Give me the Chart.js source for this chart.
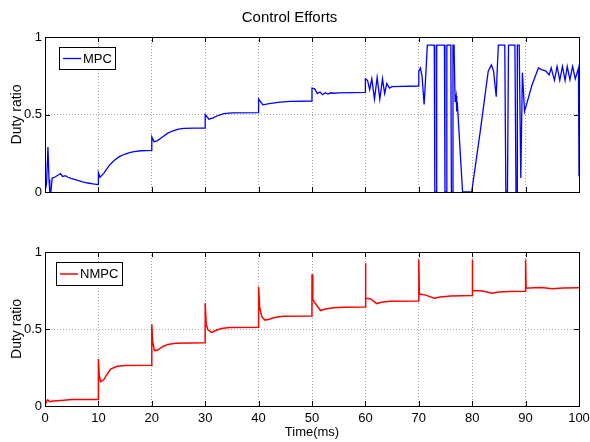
<!DOCTYPE html>
<html>
<head>
<meta charset="utf-8">
<script src="https://cdn.jsdelivr.net/npm/chart.js@4.4.0/dist/chart.umd.min.js"></script>
<style>
  body { margin: 0; background: #fff; }
  canvas { display: block; }
</style>
</head>
<body>
<canvas id="mpcChart" width="590" height="221"></canvas>
<canvas id="nmpcChart" width="590" height="221"></canvas>
<script>
// tick values (same for both subplots)
const xTicks = [0, 10, 20, 30, 40, 50, 60, 70, 80, 90, 100];
const yTicks = [0, 0.5, 1];

// MPC control effort
const mpcTime = [
  0, 0.3, 0.55, 0.75, 0.9, 1.1, 1.35, 1.8, 2.4, 2.9, 3.3, 3.8, 4.3, 5, 6, 7, 8, 9, 9.99,
  10, 10.3, 11, 12, 13, 14, 15, 16, 17, 18, 19.99,
  20, 20.4, 21, 22, 23, 24, 25, 26, 28, 29.99,
  30, 30.7, 31.5, 32.5, 33.5, 35, 39.99,
  40, 40.8, 42, 44, 46, 49.99,
  50, 50.5, 51, 51.5, 52, 52.5, 53, 53.5, 54, 55, 59.99,
  60, 60.4, 60.8, 61.2, 61.7, 62.2, 62.7, 63.2, 63.6, 64, 64.5, 65, 69.99,
  70, 70.3, 70.6, 71, 71.3, 71.6, 72.9, 73, 73.3, 73.35, 74.8, 74.9, 75.2, 75.25, 76, 76.1, 76.35, 76.4,
  76.6, 76.8, 77, 77.1, 77.2, 78.2, 79.9, 81.5, 83, 83.6, 84, 84.5, 84.7, 84.9, 86.1, 86.3, 86.6, 86.8,
  88, 88.2, 88.4, 88.45, 88.8, 89.1, 89.4, 89.8, 90.3, 91.2, 92.4, 93, 93.8, 94.4, 94.8, 95.4, 95.9,
  96.4, 96.9, 97.4, 97.8, 98.3, 98.8, 99.3, 99.9, 100
];
const mpcDuty = [
  0, 0.06, 0.29, 0.08, 0, 0, 0.09, 0.095, 0.108, 0.118, 0.1, 0.105, 0.095, 0.087, 0.076, 0.066, 0.058, 0.052, 0.048,
  0.125, 0.095, 0.12, 0.17, 0.205, 0.23, 0.245, 0.255, 0.262, 0.266, 0.268,
  0.355, 0.325, 0.33, 0.355, 0.38, 0.395, 0.405, 0.41, 0.412, 0.413,
  0.5, 0.47, 0.478, 0.495, 0.505, 0.511, 0.512,
  0.6, 0.562, 0.57, 0.58, 0.585, 0.587,
  0.67, 0.665, 0.635, 0.645, 0.628, 0.64, 0.632, 0.64, 0.637, 0.64, 0.643,
  0.73, 0.72, 0.66, 0.73, 0.6, 0.74, 0.6, 0.73, 0.635, 0.7, 0.67, 0.68, 0.684,
  0.78, 0.8, 0.75, 0.565, 0.75, 0.948, 0.948, 0, 0, 0.948, 0.948, 0, 0, 0.948, 0.948, 0, 0, 0.948,
  0.948, 0.58, 0.62, 0.52, 0.58, 0, 0, 0.39, 0.78, 0.82, 0.78, 0.615, 0.8, 0.948, 0.948, 0, 0, 0.948,
  0.948, 0, 0, 0.948, 0.948, 0.09, 0.77, 0.52, 0.58, 0.69, 0.8, 0.79, 0.78, 0.755, 0.8, 0.72, 0.81,
  0.72, 0.81, 0.72, 0.81, 0.725, 0.81, 0.73, 0.8, 0.1
];

// NMPC control effort
const nmpcTime = [
  0, 0.3, 0.5, 0.9, 1.5, 3, 5, 9.99,
  10, 10.15, 10.4, 11, 11.5, 12.3, 13.5, 15, 19.99,
  20, 20.15, 20.5, 21, 22, 23, 24.5, 29.99,
  30, 30.2, 30.5, 31.2, 32, 33, 34.5, 39.99,
  40, 40.2, 40.6, 41.2, 42, 43, 44.5, 49.99,
  50, 50.15, 50.6, 51.6, 52.5, 54, 56, 59.99,
  60, 60.1, 61, 62.1, 63, 64.5, 69.99,
  70, 70.1, 71.3, 72.9, 74, 76, 79.99,
  80, 80.1, 82, 83.6, 85, 87, 89.99,
  90, 90.1, 91.5, 93, 95, 97, 100
];
const nmpcDuty = [
  0.005, 0.03, 0.04, 0.028, 0.032, 0.036, 0.042, 0.043,
  0.305, 0.2, 0.158, 0.17, 0.2, 0.24, 0.258, 0.263, 0.264,
  0.53, 0.42, 0.36, 0.362, 0.385, 0.4, 0.408, 0.41,
  0.667, 0.53, 0.495, 0.478, 0.49, 0.503, 0.51, 0.512,
  0.775, 0.64, 0.58, 0.558, 0.563, 0.575, 0.583, 0.585,
  0.855, 0.69, 0.668, 0.62, 0.63, 0.638, 0.642, 0.643,
  0.927, 0.7, 0.695, 0.665, 0.673, 0.68, 0.682,
  0.952, 0.727, 0.72, 0.7, 0.708, 0.714, 0.717,
  0.952, 0.75, 0.746, 0.733, 0.741, 0.744, 0.745,
  0.952, 0.765, 0.768, 0.77, 0.762, 0.766, 0.768
];

const family = '"Liberation Sans", Arial, Helvetica, sans-serif';
Chart.defaults.font.family = family;
Chart.defaults.color = '#000';

// MATLAB style box with inward ticks on all four sides
const matlabAxes = {
  id: 'matlabAxes',
  afterDatasetsDraw(chart) {
    const { ctx, chartArea: a, scales: { x, y } } = chart;
    ctx.save();
    ctx.strokeStyle = '#000';
    ctx.lineWidth = 1;
    ctx.beginPath();
    xTicks.forEach(v => {
      const px = Math.round(x.getPixelForValue(v)) + 0.5;
      ctx.moveTo(px, a.bottom); ctx.lineTo(px, a.bottom - 5);
      ctx.moveTo(px, a.top); ctx.lineTo(px, a.top + 5);
    });
    yTicks.forEach(v => {
      const py = Math.round(y.getPixelForValue(v)) + 0.5;
      ctx.moveTo(a.left, py); ctx.lineTo(a.left + 5, py);
      ctx.moveTo(a.right, py); ctx.lineTo(a.right - 5, py);
    });
    ctx.stroke();
    ctx.strokeRect(Math.round(a.left) + 0.5, Math.round(a.top) + 0.5,
      Math.round(a.right - a.left), Math.round(a.bottom - a.top));
    ctx.restore();
  }
};

// legend box inside the axes, top left
const boxLegend = {
  id: 'boxLegend',
  afterDraw(chart, args, opts) {
    const ds = chart.data.datasets[0];
    const ctx = chart.ctx;
    ctx.save();
    ctx.fillStyle = '#fff';
    ctx.fillRect(opts.x, opts.y, opts.w, opts.h);
    ctx.strokeStyle = '#000';
    ctx.lineWidth = 1;
    ctx.strokeRect(opts.x + 0.5, opts.y + 0.5, opts.w, opts.h);
    const my = opts.y + opts.h / 2 + 0.5;
    ctx.strokeStyle = ds.borderColor;
    ctx.lineWidth = ds.borderWidth;
    ctx.beginPath();
    ctx.moveTo(opts.x + 4, my);
    ctx.lineTo(opts.x + 22, my);
    ctx.stroke();
    ctx.fillStyle = '#000';
    ctx.font = '13px ' + family;
    ctx.textBaseline = 'middle';
    ctx.fillText(ds.label, opts.x + 24, my + 0.5);
    ctx.restore();
  }
};

function makeChart(id, label, times, duties, color, width, isBottom, legendBox) {
  return new Chart(document.getElementById(id), {
    type: 'line',
    data: {
      datasets: [{
        label: label,
        data: times.map((t, i) => ({ x: t, y: duties[i] })),
        borderColor: color,
        borderWidth: width,
        pointRadius: 0,
        tension: 0,
        fill: false
      }]
    },
    options: {
      responsive: false,
      animation: false,
      layout: { padding: { left: 0, right: 11, top: isBottom ? 31 : 0, bottom: 0 } },
      plugins: {
        legend: { display: false },
        tooltip: { enabled: false },
        title: {
          display: !isBottom,
          text: 'Control Efforts',
          color: '#000',
          font: { size: 15, weight: 'normal', lineHeight: 1.2 },
          padding: { top: 9, bottom: 10 }
        },
        boxLegend: legendBox
      },
      scales: {
        x: {
          type: 'linear',
          min: 0,
          max: 100,
          afterBuildTicks: s => { s.ticks = xTicks.map(v => ({ value: v })); },
          ticks: { display: isBottom, padding: 5, font: { size: 13 }, color: '#000', callback: v => String(v) },
          grid: { color: '#a8a8a8', drawTicks: false },
          border: { display: false, dash: [1, 2] },
          title: {
            display: isBottom,
            text: 'Time(ms)',
            color: '#000',
            font: { size: 13 },
            padding: { top: 2, bottom: 2 }
          },
          afterFit: s => {
            s.height = isBottom ? 36 : 29;
            s.paddingLeft = 0;
            s.paddingRight = 0;
          }
        },
        y: {
          min: 0,
          max: 1,
          afterBuildTicks: s => { s.ticks = yTicks.map(v => ({ value: v })); },
          ticks: { padding: 3, font: { size: 13 }, color: '#000', callback: v => String(v) },
          grid: { color: '#a8a8a8', drawTicks: false },
          border: { display: false, dash: [1, 2] },
          title: {
            display: true,
            text: 'Duty ratio',
            color: '#000',
            font: { size: 14 },
            padding: { top: 9, bottom: 0 }
          },
          afterFit: s => {
            s.width = 45;
            s.paddingTop = 0;
            s.paddingBottom = 0;
          }
        }
      }
    },
    plugins: [matlabAxes, boxLegend]
  });
}

makeChart('mpcChart', 'MPC', mpcTime, mpcDuty, '#0000ff', 1.3, false, { x: 59, y: 47, w: 56, h: 22 });
makeChart('nmpcChart', 'NMPC', nmpcTime, nmpcDuty, '#ff0000', 1.5, true, { x: 56, y: 41, w: 66, h: 23 });
</script>
</body>
</html>
